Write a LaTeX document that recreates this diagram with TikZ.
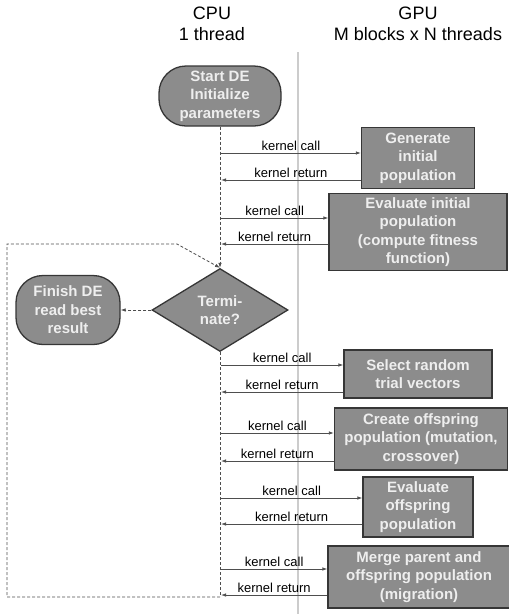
\documentclass[tikz,border=0pt]{standalone}
\usepackage{fontspec}
\setmainfont{Liberation Sans}
\usetikzlibrary{arrows.meta,shapes.geometric}
\definecolor{boxgray}{HTML}{8C8C8C}
\definecolor{edgegray}{HTML}{363636}
\definecolor{boxtext}{HTML}{EEEEEE}
\definecolor{linegray}{HTML}{4E4E4E}
\definecolor{lanegray}{HTML}{CCCCCC}

\begin{document}
\begin{tikzpicture}[x=1pt,y=-1pt,
    proc/.style={draw=edgegray,line width=1.3pt,fill=boxgray,text=boxtext,align=center,
        font=\fontsize{15}{18.5}\selectfont\bfseries,inner sep=0pt},
    stadium/.style={proc,rounded corners=27pt},
    kern/.style={linegray,line width=0.8pt,-{Latex[length=5pt,width=3.5pt]}},
    flow/.style={linegray,line width=0.8pt,dash pattern=on 3pt off 2pt},
    klabel/.style={text=black,font=\fontsize{13}{15}\selectfont,above,inner sep=2pt}]
    \useasboundingbox (0,0) rectangle (509,614);
    \node[font=\fontsize{18}{21}\selectfont,align=center] (cpu) at (212,24) {CPU\\1 thread};
    \node[font=\fontsize{18}{21}\selectfont,align=center] (gpu) at (418,24) {GPU\\M blocks x N threads};
    \draw[lanegray,line width=1.2pt] (298,52) -- (298,614);

    \node[stadium,minimum width=122,minimum height=60] (start) at (220,96) {Start DE\\Initialize\\parameters};
    \node[proc,minimum width=113,minimum height=61] (gen) at (418,158) {Generate\\initial\\population};
    \node[proc,minimum width=178,minimum height=77] (evalinit) at (418,232) {Evaluate initial\\population\\(compute fitness\\function)};
    \node[proc,shape=diamond,minimum width=136,minimum height=83] (term) at (220,310) {Termi-\\nate?};
    \node[stadium,minimum width=104,minimum height=69] (finish) at (68,310) {Finish DE\\read best\\result};
    \node[proc,minimum width=148,minimum height=48] (select) at (418,374) {Select random\\trial vectors};
    \node[proc,minimum width=173,minimum height=62] (offspring) at (421,439) {Create offspring\\population (mutation,\\crossover)};
    \node[proc,minimum width=110,minimum height=60] (evaloff) at (418,507) {Evaluate\\offspring\\population};
    \node[proc,minimum width=182,minimum height=62] (merge) at (419,577) {Merge parent and\\offspring population\\(migration)};

    \coordinate (bottom) at (220,597);
    \coordinate (loopbl) at (7,597);
    \coordinate (looptl) at (7,244);
    \coordinate (loopbend) at (177,244);
    \draw[flow,-{Latex[length=5pt,width=3.5pt]}] (start.south) -- (term.north);
    \draw[flow,-{Latex[length=5pt,width=3.5pt]}] (term.west) -- (finish.east);
    \draw[flow] (term.south) -- (bottom);
    \draw[flow,-{Latex[length=5pt,width=3.5pt]}] (bottom) -- (loopbl) -- (looptl) -- (loopbend) -- (term.north);

    \foreach \b/\yc/\yr in {gen/153/180,evalinit/218/244,select/365/392,offspring/433/461,evaloff/498/524,merge/569/595}{
        \coordinate (c-\b) at (221,\yc);
        \coordinate (r-\b) at (221,\yr);
        \draw[kern] (c-\b) -- (c-\b -| \b.west) node[klabel,midway] {kernel call};
        \draw[kern] (r-\b -| \b.west) -- (r-\b) node[klabel,midway] {kernel return};
    }
\end{tikzpicture}
\end{document}
